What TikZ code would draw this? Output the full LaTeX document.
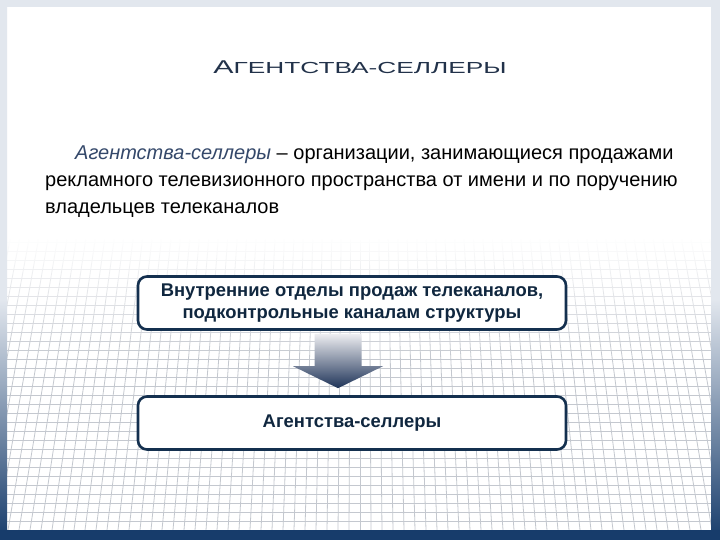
\documentclass[tikz,border=0pt]{standalone}
\usepackage{fontspec}
\setmainfont{Liberation Sans}
\usepackage{graphicx}
\usetikzlibrary{positioning,calc,fadings}

\definecolor{boxnavy}{HTML}{14304F}
\definecolor{framelight}{HTML}{E2E7EE}
\definecolor{framedark}{HTML}{173C6B}
\definecolor{titleslate}{HTML}{22324A}
\definecolor{termblue}{HTML}{34486A}
\definecolor{gridgray}{HTML}{C4C8CF}
\definecolor{arrowtop}{HTML}{EEEEF1}
\definecolor{arrowmid}{HTML}{9CA1B2}
\definecolor{arrowbot}{HTML}{1E3358}

\tikzfading[name=gridveil, top color=transparent!0, bottom color=transparent!100]

\begin{document}
\begin{tikzpicture}[x=1pt,y=1pt,
    box/.style={draw=boxnavy,line width=2.6pt,rounded corners=9pt,fill=white,
      minimum width=428pt,minimum height=53pt,align=center,
      text=boxnavy!80!black,font=\bfseries\fontsize{18.4}{21.5}\selectfont},
    defline/.style={anchor=base west,inner sep=0pt,font=\fontsize{20}{27}\selectfont}]
  % page and grid floor
  \fill[white](0,0)rectangle(720,540);
  \begin{scope}
    \clip(7,10)rectangle(711,300);
    \foreach \i in {-40,...,40}
      \draw[gridgray,line width=0.8pt](360+\i*11,10)--(360+\i*11*0.86,300);
    \foreach \j in {0,...,32}
      \draw[gridgray,line width=0.8pt](7,10+\j*9)--(711,10+\j*9);
  \end{scope}
  \fill[white,path fading=gridveil](7,180)rectangle(711,302);
  % frame
  \fill[framelight](0,240)rectangle(7,540) (711,240)rectangle(720,540);
  \shade[top color=framelight,bottom color=framedark](0,0)rectangle(7,240.5);
  \shade[top color=framelight,bottom color=framedark](711,0)rectangle(720,240.5);
  \fill[framelight](0,533)rectangle(720,540);
  \fill[framedark](0,0)rectangle(720,10);
  % title
  \node[text=titleslate,font=\fontsize{16}{16}\selectfont] (title) at (360,473)
    {\scalebox{1.64}[1]{{\fontsize{18.5}{18}\selectfont А}ГЕНТСТВА-СЕЛЛЕРЫ}};
  % definition
  \node[defline] (def1) at (75,380)
    {\textcolor{termblue}{\itshape Агентства-селлеры} -- организации, занимающиеся продажами};
  \node[defline] (def2) at (45,353)
    {рекламного телевизионного пространства от имени и по поручению};
  \node[defline] (def3) at (45,326) {владельцев телеканалов};
  % boxes
  \node[box] (inner) at (352,237)
    {Внутренние отделы продаж телеканалов,\\подконтрольные каналам структуры};
  \node[box] (sellers) at (352,117) {Агентства-селлеры};
  \coordinate (tip) at ($(sellers.north)+(-14,7)$);
  \shade[top color=arrowtop,middle color=arrowmid,bottom color=arrowbot]
    ($(inner.south)+(-37.5,-3)$)--($(inner.south)+(9.5,-3)$)--($(tip)+(23.5,22)$)
    --($(tip)+(45,22)$)--(tip)--($(tip)+(-45,22)$)--($(tip)+(-23.5,22)$)--cycle;
\end{tikzpicture}
\end{document}
